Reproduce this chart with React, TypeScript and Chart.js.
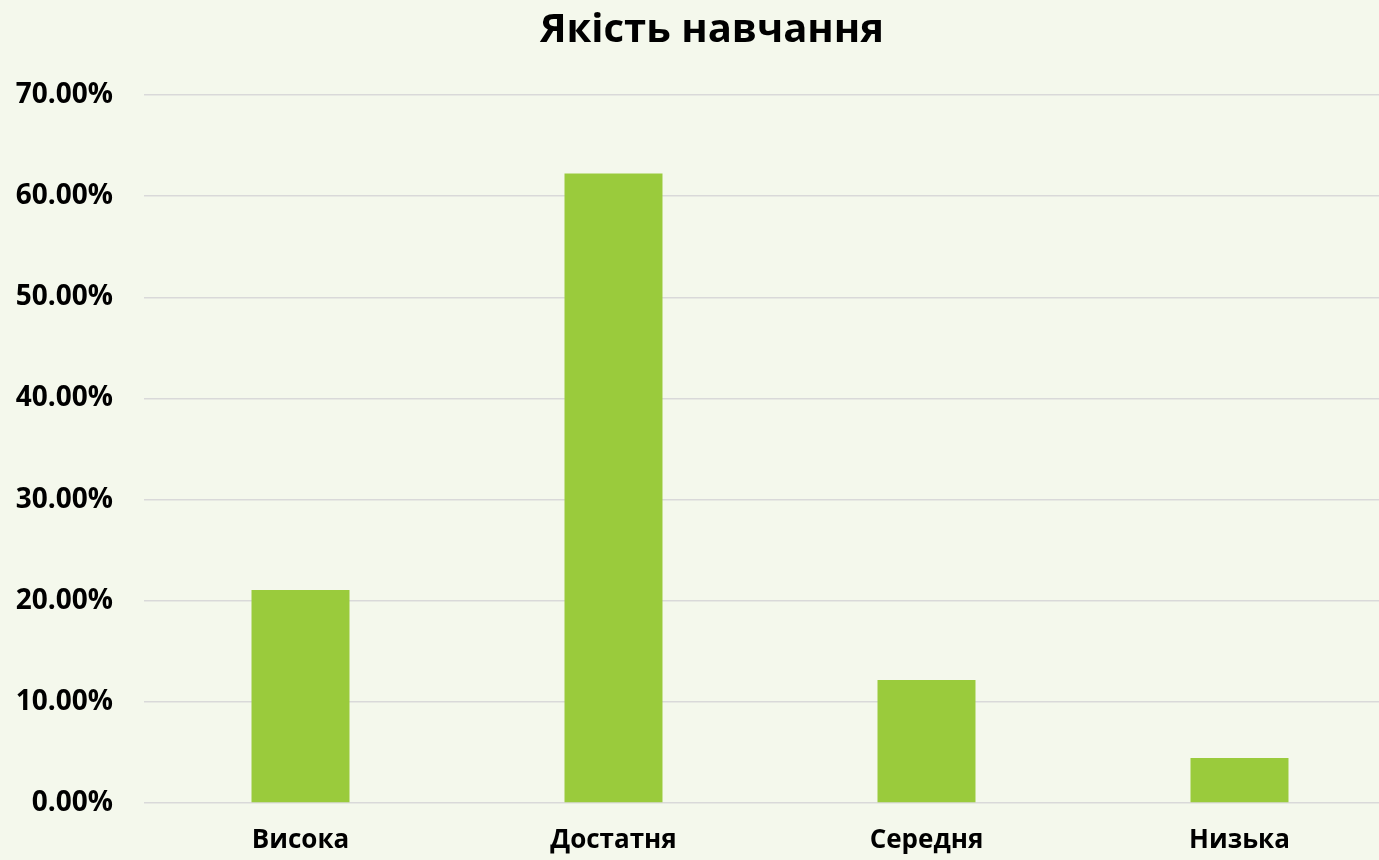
import React, { useEffect, useRef } from "react";
import { Chart, registerables } from "chart.js";

Chart.register(...registerables);

const title = "Якість навчання";
const categories = ["Висока", "Достатня", "Середня", "Низька"];
const values = [21.05, 62.25, 12.15, 4.45];
const yMin = 0;
const yMax = 70;
const yStep = 10;

const BG = "#F4F8EC";
const BAR = "#9ACB3C";
const FONT = "'Open Sans', sans-serif";

export default function App() {
  const ref = useRef<HTMLCanvasElement | null>(null);
  useEffect(() => {
    if (!ref.current) return;
    const bgPlugin = {
      id: "bg",
      beforeDraw(chart: any) {
        const ctx = chart.ctx;
        ctx.save();
        ctx.fillStyle = BG;
        ctx.fillRect(0, 0, chart.width, chart.height);
        ctx.restore();
      },
    };
    const titlePlugin = {
      id: "customTitle",
      afterDraw(chart: any) {
        const ctx = chart.ctx;
        ctx.save();
        ctx.fillStyle = "#000000";
        ctx.font = `bold 40px ${FONT}`;
        ctx.textAlign = "center";
        ctx.textBaseline = "middle";
        ctx.fillText(title, 712, 31);
        ctx.restore();
      },
    };
    const chart = new Chart(ref.current, {
      type: "bar",
      data: {
        labels: categories,
        datasets: [
          {
            data: values,
            backgroundColor: BAR,
            borderWidth: 0,
            categoryPercentage: 0.313,
            barPercentage: 1,
          },
        ],
      },
      options: {
        responsive: false,
        animation: false,
        layout: { padding: { left: 0, right: 4, top: 95, bottom: 0 } },
        plugins: {
          legend: { display: false },
          tooltip: { enabled: false },
          title: { display: false },
        },
        scales: {
          x: {
            grid: { display: false, drawTicks: false },
            border: { display: false },
            ticks: {
              color: "#000000",
              font: { family: FONT, size: 26, weight: "bold" },
              padding: 22,
              maxRotation: 0,
            },
            afterFit(scale: any) {
              scale.height = 57;
            },
          },
          y: {
            min: yMin,
            max: yMax,
            grid: { color: "#D9D9D9", lineWidth: 1.5, drawTicks: false },
            border: { display: false },
            ticks: {
              stepSize: yStep,
              color: "#000000",
              font: { family: FONT, size: 28, weight: "bold" },
              padding: 31,
              callback: (v: any) => Number(v).toFixed(2) + "%",
            },
            afterFit(scale: any) {
              scale.width = 144;
            },
          },
        },
      },
      plugins: [bgPlugin, titlePlugin],
    });
    return () => chart.destroy();
  }, []);
  return (
    <div
      style={{
        position: "fixed",
        left: 0,
        top: 0,
        width: "1379px",
        height: "860px",
        overflow: "hidden",
        background: BG,
      }}
    >
      <canvas ref={ref} width={1400} height={860} style={{ display: "block" }} />
    </div>
  );
}
